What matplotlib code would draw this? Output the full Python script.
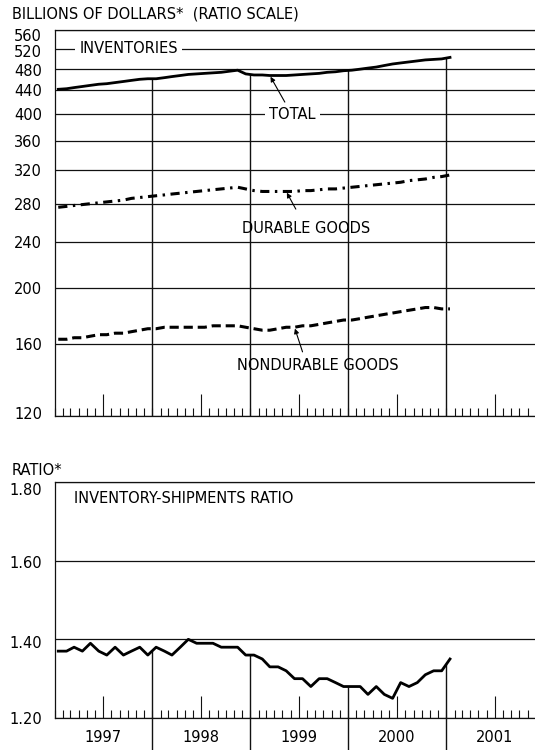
import matplotlib

matplotlib.use("Agg")

import matplotlib.dates as mdates
import matplotlib.pyplot as plt
import matplotlib.transforms as mtransforms
import numpy as np
import pandas as pd
from matplotlib.ticker import FixedLocator, NullLocator

IMAGE_DPI = 100.0
WIDTH = 535
HEIGHT = 750

# monthly data, Jan 1997 - Jan 2001 (plotted mid-month)
months = pd.date_range("1997-01-01", periods=49, freq="MS") + pd.Timedelta(days=14)

total = [
    442, 443, 445, 447, 449, 451, 452, 454, 456, 458, 460, 461,
    461, 463, 465, 467, 469, 470, 471, 472, 473, 475, 477, 470,
    468, 468, 467, 467, 467, 468, 469, 470, 471, 473, 474, 476,
    477, 479, 481, 483, 486, 489, 491, 493, 495, 497, 498, 499,
    502,
]
durable = [
    276, 277, 278, 279, 280, 281, 282, 283, 284, 286, 287, 288,
    289, 290, 291, 292, 293, 294, 295, 296, 297, 298, 299, 297,
    295, 294, 294, 294, 294, 294, 295, 295, 296, 297, 297, 298,
    299, 300, 301, 302, 303, 304, 305, 307, 308, 309, 311, 312,
    314,
]
nondurable = [
    163, 163, 164, 164, 165, 166, 166, 167, 167, 168, 169, 170,
    170, 171, 171, 171, 171, 171, 171, 172, 172, 172, 172, 171,
    170, 169, 169, 170, 171, 171, 172, 172, 173, 174, 175, 176,
    176, 177, 178, 179, 180, 181, 182, 183, 184, 185, 185, 184,
    184,
]
ratio = [
    1.37, 1.37, 1.38, 1.37, 1.39, 1.37, 1.36, 1.38, 1.36, 1.37, 1.38, 1.36,
    1.38, 1.37, 1.36, 1.38, 1.40, 1.39, 1.39, 1.39, 1.38, 1.38, 1.38, 1.36,
    1.36, 1.35, 1.33, 1.33, 1.32, 1.30, 1.30, 1.28, 1.30, 1.30, 1.29, 1.28,
    1.28, 1.28, 1.26, 1.28, 1.26, 1.25, 1.29, 1.28, 1.29, 1.31, 1.32, 1.32,
    1.35,
]

inv_ticks = [120, 160, 200, 240, 280, 320, 360, 400, 440, 480, 520, 560]
ratio_ticks = [1.20, 1.40, 1.60, 1.80]
year_list = [1997, 1998, 1999, 2000, 2001]

XBEGIN = pd.Timestamp("1997-01-01")
XEND = pd.Timestamp("2001-11-28")

FONT = 10.5
LINE_COLOR = "#111111"


def setup_xaxis(ax):
    ax.set_xlim(XBEGIN, XEND)
    ax.xaxis.set_major_locator(mdates.MonthLocator(bymonth=7))
    ax.xaxis.set_minor_locator(mdates.MonthLocator())
    ax.tick_params(axis="x", which="major", direction="in", length=16, width=0.8, color=LINE_COLOR)
    ax.tick_params(axis="x", which="minor", direction="in", length=6, width=0.8, color=LINE_COLOR)
    ax.tick_params(axis="y", length=0, pad=9, labelsize=FONT)
    ax.spines["right"].set_visible(False)
    for side in ["left", "top", "bottom"]:
        ax.spines[side].set_linewidth(0.9)
        ax.spines[side].set_color(LINE_COLOR)
    ax.grid(axis="y", color=LINE_COLOR, linewidth=0.9)
    ax.set_axisbelow(True)


def nudge_labels(ax, shifts):
    # NOTE: 上端付近のラベルは少し下げて見出しと重ならないようにする
    for label, dy in zip(ax.get_yticklabels(), shifts):
        if dy:
            offset = mtransforms.ScaledTranslation(0, -dy / IMAGE_DPI, ax.figure.dpi_scale_trans)
            label.set_transform(label.get_transform() + offset)


def year_lines(ax, series, bottom, extend=False):
    xnum = mdates.date2num(months)
    for year in year_list[1:]:
        d = pd.Timestamp(f"{year}-01-01")
        top = np.interp(mdates.date2num(d), xnum, series)
        ax.vlines(d, bottom, top, color=LINE_COLOR, linewidth=1.0, zorder=2)
        if extend:
            ax.plot([d, d], [0, -0.14], transform=ax.get_xaxis_transform(),
                    color=LINE_COLOR, linewidth=1.0, clip_on=False)


plt.rcParams["font.family"] = ["DejaVu Sans"]

fig = plt.figure(figsize=(WIDTH / IMAGE_DPI, HEIGHT / IMAGE_DPI), dpi=IMAGE_DPI, facecolor="white")

left = 54.5 / WIDTH
ax1 = fig.add_axes([left, 1 - 416 / HEIGHT, 1 - left, (416 - 30) / HEIGHT])
ax2 = fig.add_axes([left, 1 - 718 / HEIGHT, 1 - left, (718 - 482) / HEIGHT])

# --- inventories (ratio scale)
ax1.set_yscale("log")
ax1.set_ylim(inv_ticks[0], inv_ticks[-1])
ax1.yaxis.set_major_locator(FixedLocator(inv_ticks))
ax1.yaxis.set_minor_locator(NullLocator())
ax1.set_yticklabels([str(v) for v in inv_ticks])
setup_xaxis(ax1)
ax1.xaxis.set_major_formatter(plt.NullFormatter())
nudge_labels(ax1, [-3, 0, 0, 0, 0, 0, 0, 0, 0, 1, 2, 5])

ax1.plot(months, total, color="black", linewidth=2.0, zorder=3)
ax1.plot(months, durable, color="black", linewidth=2.2, linestyle=(0, (3, 1.8, 0.8, 1.8)), zorder=3)
ax1.plot(months, nondurable, color="black", linewidth=2.2, linestyle=(0, (3, 1.6)), zorder=3)
year_lines(ax1, total, inv_ticks[0])

box = dict(facecolor="white", edgecolor="none", pad=3)
ax1.text(pd.Timestamp("1997-04-04"), 520, "INVENTORIES", ha="left", va="center", fontsize=FONT, bbox=box, zorder=4)
ax1.text(pd.Timestamp("1999-03-12"), 400, "TOTAL", ha="left", va="center", fontsize=FONT, bbox=box, zorder=4)
ax1.text(pd.Timestamp("1998-12-01"), 254, "DURABLE GOODS", ha="left", va="center", fontsize=FONT, zorder=4)
ax1.text(pd.Timestamp("1998-11-12"), 147, "NONDURABLE GOODS", ha="left", va="center", fontsize=FONT, zorder=4)

arrow = dict(arrowstyle="-|>", color="black", linewidth=0.8, mutation_scale=7, shrinkA=0, shrinkB=1)
ax1.annotate("", xy=(months[26], total[26]), xytext=(pd.Timestamp("1999-05-10"), 420), arrowprops=arrow)
ax1.annotate("", xy=(months[28], durable[28]), xytext=(pd.Timestamp("1999-06-20"), 274), arrowprops=arrow)
ax1.annotate("", xy=(months[29], nondurable[29]), xytext=(pd.Timestamp("1999-07-15"), 155), arrowprops=arrow)

fig.text(12 / WIDTH, 1 - 14 / HEIGHT, "BILLIONS OF DOLLARS*  (RATIO SCALE)", ha="left", va="center", fontsize=FONT)

# --- inventory-shipments ratio
ax2.set_ylim(ratio_ticks[0], ratio_ticks[-1])
ax2.yaxis.set_major_locator(FixedLocator(ratio_ticks))
ax2.set_yticklabels([f"{v:.2f}" for v in ratio_ticks])
setup_xaxis(ax2)
ax2.xaxis.set_major_formatter(mdates.DateFormatter("%Y"))
ax2.tick_params(axis="x", which="major", pad=9, labelsize=FONT)
nudge_labels(ax2, [0, 3, 1, 7])

ax2.plot(months, ratio, color="black", linewidth=2.0, zorder=3)
year_lines(ax2, ratio, ratio_ticks[0], extend=True)

ax2.text(pd.Timestamp("1997-03-15"), 1.757, "INVENTORY-SHIPMENTS RATIO", ha="left", va="center", fontsize=FONT)
fig.text(12 / WIDTH, 1 - 470 / HEIGHT, "RATIO*", ha="left", va="center", fontsize=FONT)

fig.savefig("out.png", dpi=IMAGE_DPI, facecolor="white")
